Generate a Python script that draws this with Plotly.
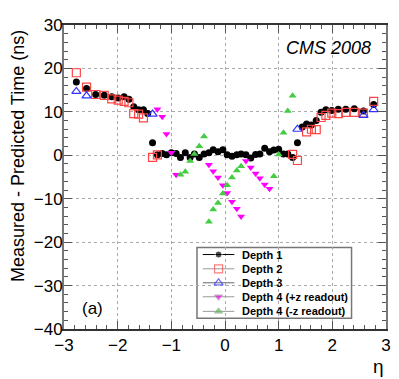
import plotly.graph_objects as go

# eta tower centres
eta_neg = [-2.77, -2.58, -2.41, -2.25, -2.11, -1.99, -1.88, -1.79, -1.70, -1.61,
           -1.52, -1.44, -1.35, -1.26, -1.17, -1.09, -1.00, -0.91, -0.83, -0.74,
           -0.65, -0.57, -0.48, -0.39, -0.30, -0.22, -0.13, -0.04]
eta_pos = [0.04, 0.13, 0.22, 0.30, 0.39, 0.48, 0.57, 0.65, 0.74, 0.83,
           0.91, 1.00, 1.09, 1.17, 1.26, 1.35, 1.44, 1.52, 1.61, 1.70,
           1.79, 1.88, 1.99, 2.11, 2.25, 2.41, 2.58, 2.77]

# Depth 1
d1_eta = eta_neg + eta_pos
d1_time = [16.9, 15.4, 14.0, 13.8, 13.5, 13.2, 13.5, 12.9, 11.2, 10.5,
           10.5, 9.6, 2.9, 0.1, 0.4, 0.1, 0.6, 0.4, -0.5, 0.6,
           -0.5, 0.3, -0.5, 0.3, 0.6, 1.3, 0.8, 1.3,
           0.1, -0.2, 0.1, 0.3, 0.1, -0.6, 0.2, 0.3, 1.6, 0.8,
           1.2, 1.4, 0.3, 0.3, -0.5, 2.9, 6.5, 7.2, 7.0, 8.0,
           9.9, 10.5, 10.3, 10.6, 10.6, 10.7, 10.2, 11.7]

# Depth 2
d2_eta = [-2.77, -2.58, -2.41, -2.25, -2.11, -1.99, -1.88, -1.79, -1.70, -1.61,
          -1.52, -1.35, -1.26,
          1.26, 1.35, 1.52, 1.61, 1.70, 1.79, 1.88, 1.99, 2.11, 2.25, 2.41, 2.58, 2.77]
d2_time = [19.0, 15.7, 14.0, 13.8, 13.0, 12.7, 12.4, 12.1, 9.6, 9.5,
           8.6, -0.5, 0.1,
           0.2, -1.2, 5.4, 6.0, 5.9, 8.7, 9.2, 9.7, 9.6, 9.9, 9.9, 9.7, 12.4]

# Depth 3
d3_eta = [-2.77, -2.58, -1.35, 1.35, 2.58, 2.77]
d3_time = [14.7, 13.7, 9.5, 6.0, 9.2, 10.5]

# Depth 4, +z readout
d4p_eta = [-1.26, -1.17, -1.09, -1.00, -0.91, -0.30, -0.22, -0.13, -0.04, 0.04,
           0.13, 0.22, 0.30, 0.39, 0.48, 0.57, 0.65, 0.74, 0.83]
d4p_time = [10.6, 8.9, 4.9, 0.6, -4.5, -2.2, -3.7, -5.1, -6.9, -8.7,
            -10.7, -12.3, -14.1, -1.3, -2.8, -4.2, -5.3, -6.7, -7.7]

# Depth 4, -z readout
d4m_eta = [-0.83, -0.74, -0.65, -0.57, -0.48, -0.39, -0.30, -0.22, -0.13, -0.04,
           0.04, 0.13, 0.22, 0.30, 0.91, 1.00, 1.09, 1.17, 1.26]
d4m_time = [-4.5, -3.8, -1.3, 0.3, 2.1, 4.3, -15.3, -12.5, -11.0, -8.8,
            -6.9, -5.1, -3.5, -2.5, -4.8, 0.2, 5.2, 10.2, 13.7]

FONT = "Liberation Sans, Arial, Helvetica, sans-serif"

series = [
    ("Depth 1", d1_eta, d1_time, dict(symbol="circle", size=7, color="black"), "black"),
    ("Depth 2", d2_eta, d2_time,
     dict(symbol="square-open", size=8, color="#ff4444", line=dict(width=1.2)), "#999999"),
    ("Depth 3", d3_eta, d3_time,
     dict(symbol="triangle-up-open", size=8, color="#3333ff", line=dict(width=1.2)), "#667"),
    ("Depth 4 (+z readout)", d4p_eta, d4p_time,
     dict(symbol="triangle-down", size=7, color="#ff00ff"), "#999999"),
    ("Depth 4 (-z readout)", d4m_eta, d4m_time,
     dict(symbol="triangle-up", size=7, color="#44cc44"), "#999999"),
]

fig = go.Figure()
for name, xs, ys, mk, _ in series:
    fig.add_trace(go.Scatter(x=xs, y=ys, mode="markers", name=name, marker=mk,
                             showlegend=False, hoverinfo="skip"))

# hand-made ROOT style legend on an overlay axis in paper units
leg_rows = [0.245, 0.198, 0.152, 0.106, 0.058]
for (name, _, _, mk, lc), ry in zip(series, leg_rows):
    mk2 = dict(mk)
    mk2["size"] = [0, mk["size"], 0]
    fig.add_trace(go.Scatter(x=[0.431, 0.480, 0.529], y=[ry, ry, ry], mode="lines+markers",
                             line=dict(color=lc, width=1), marker=mk2, xaxis="x2", yaxis="y2",
                             showlegend=False, hoverinfo="skip"))
    fig.add_annotation(x=0.547, y=ry, xref="paper", yref="paper", text="<b>%s</b>" % name,
                       showarrow=False, xanchor="left", yanchor="middle",
                       font=dict(family=FONT, size=11, color="black"))

fig.add_shape(type="rect", xref="paper", yref="paper", x0=0.413, x1=0.893, y0=0.035, y1=0.268,
              line=dict(color="#777777", width=1.5), fillcolor="white", layer="below")

fig.add_annotation(x=0.960, y=0.923, xref="paper", yref="paper", text="<i>CMS 2008</i>",
                   showarrow=False, xanchor="right", yanchor="middle",
                   font=dict(family=FONT, size=18, color="black"))
fig.add_annotation(x=0.089, y=0.068, xref="paper", yref="paper", text="(a)",
                   showarrow=False, xanchor="center", yanchor="middle",
                   font=dict(family=FONT, size=17, color="black"))
fig.add_annotation(x=-0.141, y=0.568, xref="paper", yref="paper",
                   text="Measured - Predicted Time (ns)", textangle=-90,
                   showarrow=False, xanchor="center", yanchor="middle",
                   font=dict(family=FONT, size=18, color="black"))
fig.add_annotation(x=1.0, y=-0.123, xref="paper", yref="paper", text="η",
                   showarrow=False, xanchor="right", yanchor="middle",
                   font=dict(family=FONT, size=19, color="black"))

# the page body adds an 8 px margin, so the figure is 8 px smaller and shifted back
fig.update_layout(
    width=391, height=371,
    margin=dict(l=56, r=8, t=11, b=50),
    paper_bgcolor="white", plot_bgcolor="white",
    font=dict(family=FONT, size=17, color="black"),
    xaxis=dict(range=[-3, 3], dtick=1, tick0=-3, ticks="inside", ticklen=8, tickcolor="#555",
               minor=dict(ticks="inside", ticklen=4, dtick=0.2, tickcolor="#555"),
               showline=True, linecolor="#333333", linewidth=1.5, mirror="allticks",
               showgrid=True, gridcolor="#aaaaaa", griddash="dot", gridwidth=1,
               zeroline=False, tickfont=dict(size=17), ticklabelstandoff=0),
    yaxis=dict(range=[-40, 30], dtick=10, tick0=0, ticks="inside", ticklen=8, tickcolor="#555",
               minor=dict(ticks="inside", ticklen=4, dtick=2, tickcolor="#555"),
               showline=True, linecolor="#777777", linewidth=2, mirror="allticks",
               showgrid=True, gridcolor="#aaaaaa", griddash="dot", gridwidth=1,
               zeroline=False, tickfont=dict(size=17), ticklabelstandoff=-4),
    xaxis2=dict(range=[0, 1], overlaying="x", visible=False, anchor="y2"),
    yaxis2=dict(range=[0, 1], overlaying="y", visible=False, anchor="x2"),
)

fig.write_html("out.html")
